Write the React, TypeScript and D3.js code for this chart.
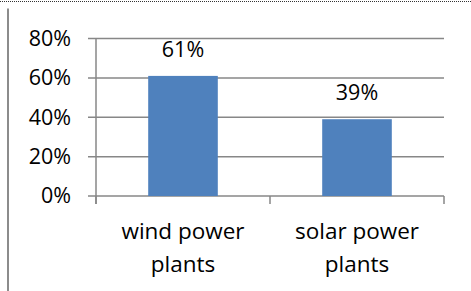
import React from "react";
import * as d3 from "d3";

const categories: string[][] = [["wind power", "plants"], ["solar power", "plants"]];
const values: number[] = [61, 39];
const yTicks: number[] = [0, 20, 40, 60, 80];

const W = 471;
const H = 291;
const FONT = "'Open Sans', 'Liberation Sans', sans-serif";

export default function App() {
  const x = d3.scaleBand<number>().domain(d3.range(values.length)).range([96, 444]).paddingInner(0).paddingOuter(0);
  const y = d3.scaleLinear().domain([0, 80]).range([196, 38.5]);
  const barW = x.bandwidth() * 0.4;
  const grid = "#878787";
  return (
    <svg width={W} height={H} style={{ position: "absolute", left: 0, top: 0, background: "#fff" }} fontFamily={FONT}>
      <line x1={0} x2={W} y1={1.5} y2={1.5} stroke="#333" strokeWidth={1} strokeDasharray="1,1" />
      <line x1={8} x2={8} y1={8.5} y2={H} stroke="#8c8c8c" strokeWidth={2} />
      {yTicks.map((t) => (
        <g key={t}>
          <line x1={88} x2={444} y1={y(t)} y2={y(t)} stroke={grid} strokeWidth={1.5} />
          <text x={71} y={y(t)} dy="0.34em" textAnchor="end" fontSize={21.5} fill="#000">
            {t}%
          </text>
        </g>
      ))}
      <line x1={96} x2={96} y1={y(80)} y2={204} stroke={grid} strokeWidth={1.5} />
      {[...x.domain(), values.length].map((i) => {
        const xx = i < values.length ? (x(i) as number) : x.range()[1];
        return <line key={"ct" + i} x1={xx} x2={xx} y1={196} y2={204} stroke={grid} strokeWidth={1.5} />;
      })}
      {values.map((v, i) => {
        const cx = (x(i) as number) + x.bandwidth() / 2;
        return (
          <g key={"b" + i}>
            <rect x={cx - barW / 2} y={y(v)} width={barW} height={y(0) - y(v)} fill="#4f81bd" />
            <text x={cx} y={y(v) - 19} textAnchor="middle" fontSize={21.5} fill="#000">
              {v}%
            </text>
            {categories[i].map((line, j) => (
              <text key={j} x={cx} y={239 + j * 32.5} textAnchor="middle" fontSize={22.5} fill="#000">
                {line}
              </text>
            ))}
          </g>
        );
      })}
    </svg>
  );
}
